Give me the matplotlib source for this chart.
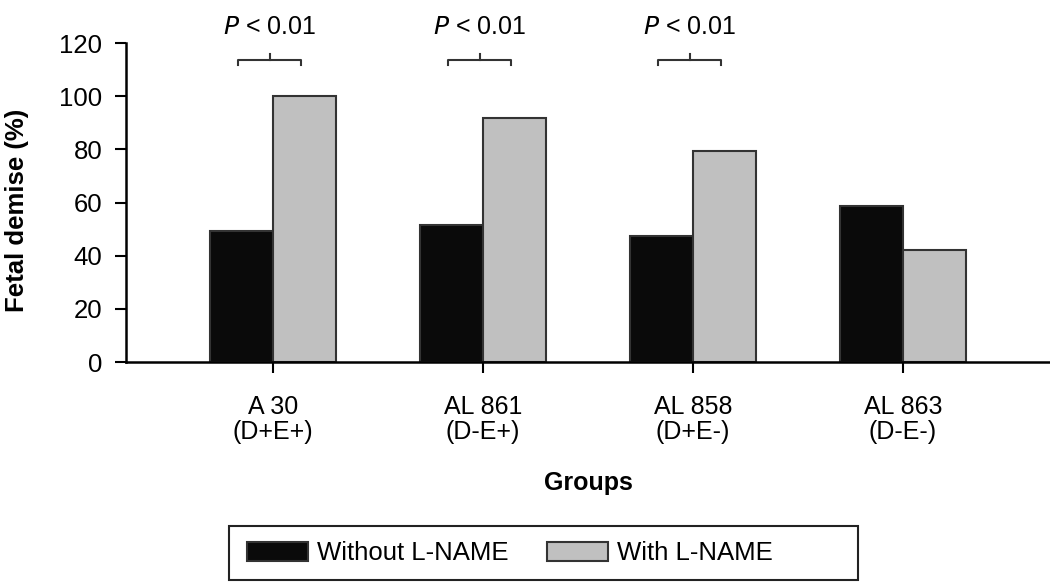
import numpy as np
import matplotlib
matplotlib.use("Agg")
import matplotlib.pyplot as plt
from matplotlib.patches import Patch, Rectangle

plt.rcParams['font.family'] = ['Liberation Sans', 'DejaVu Sans']

groups = ['A 30\n(D+E+)', 'AL 861\n(D-E+)', 'AL 858\n(D+E-)', 'AL 863\n(D-E-)']
without_lname = [49.3, 51.5, 47.4, 58.7]
with_lname = [100, 91.8, 79.4, 42.1]
sig_groups = [0, 1, 2]
sig_text = '$\\mathit{P}$ < 0.01'

fig = plt.figure(figsize=(10.5, 5.82), dpi=100)
ax = fig.add_axes([0.12, 0.378, 0.88, 0.548])

x = np.arange(len(groups))
w = 0.3
ax.bar(x - w / 2, without_lname, w, color='#0a0a0a', edgecolor='#333333', linewidth=1.5)
ax.bar(x + w / 2, with_lname, w, color='#c0c0c0', edgecolor='#333333', linewidth=1.5)

# significance brackets
for g in sig_groups:
    c = g - 0.015
    ax.plot([c - 0.15, c - 0.15, c + 0.15, c + 0.15], [111.8, 113.6, 113.6, 111.8],
            color='#333333', lw=1.5, clip_on=False)
    ax.plot([c, c], [113.6, 115.8], color='#333333', lw=1.5, clip_on=False)
    ax.text(c, 121.5, sig_text, ha='center', va='bottom', fontsize=18, clip_on=False)

ax.set_xlim(-0.7, 3.7)
ax.set_ylim(0, 120)
ax.set_yticks(range(0, 121, 20))
ax.set_xticks(x)
ax.set_xticklabels(groups, fontsize=18, linespacing=1.05)
ax.tick_params(axis='y', labelsize=18.5, length=8, width=1.5, direction='out', pad=9)
ax.tick_params(axis='x', length=8, width=1.5, direction='out', pad=16)
for s in ['top', 'right']:
    ax.spines[s].set_visible(False)
for s in ['left', 'bottom']:
    ax.spines[s].set_linewidth(1.8)

ax.set_ylabel('Fetal demise (%)', fontsize=18.5, fontweight='bold', labelpad=22, y=0.475)
ax.set_xlabel('Groups', fontsize=18, fontweight='bold', labelpad=19)

handles = [Patch(facecolor='#0a0a0a', edgecolor='#333333', lw=1.5, label='Without L-NAME'),
           Patch(facecolor='#c0c0c0', edgecolor='#333333', lw=1.5, label='With L-NAME')]
leg = fig.legend(handles=handles, loc='center left', bbox_to_anchor=(0.2352, 0.049), ncol=2,
                 fontsize=18.5, frameon=False,
                 handlelength=2.37, handleheight=0.74, handletextpad=0.35,
                 columnspacing=1.5, borderpad=0, borderaxespad=0)
# legend box is wider than its entries in the original
fig.patches.append(Rectangle((0.2181, 0.0034), 0.599, 0.0928, transform=fig.transFigure,
                             fill=False, edgecolor='#222222', lw=1.5))

fig.savefig('out.png', dpi=100)
